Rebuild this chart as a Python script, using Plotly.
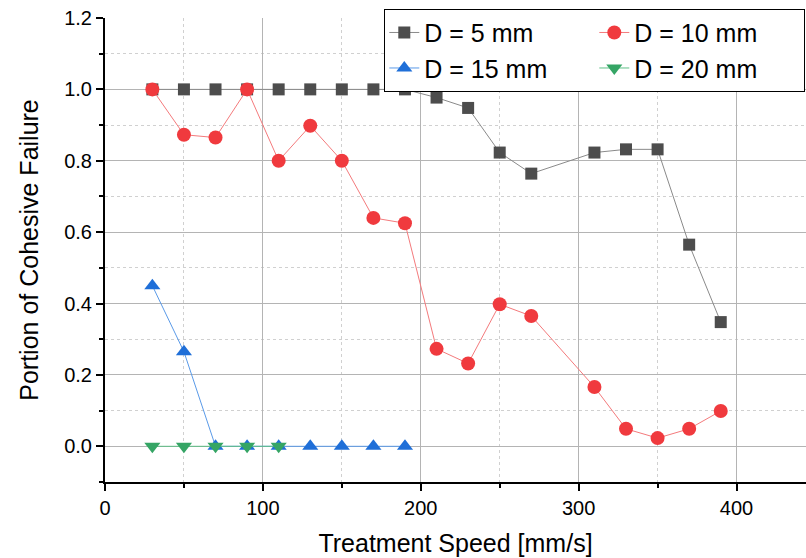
import plotly.graph_objects as go

speed_5 = [30, 50, 70, 90, 110, 130, 150, 170, 190, 210, 230, 250, 270, 310, 330, 350, 370, 390]
cf_5 = [1.0, 1.0, 1.0, 1.0, 1.0, 1.0, 1.0, 1.0, 1.0, 0.977, 0.948, 0.823, 0.764, 0.823, 0.832, 0.832, 0.565, 0.348]

speed_10 = [30, 50, 70, 90, 110, 130, 150, 170, 190, 210, 230, 250, 270, 310, 330, 350, 370, 390]
cf_10 = [1.0, 0.873, 0.865, 1.0, 0.8, 0.898, 0.8, 0.64, 0.625, 0.273, 0.232, 0.398, 0.365, 0.166, 0.049, 0.023, 0.049, 0.099]

speed_15 = [30, 50, 70, 90, 110, 130, 150, 170, 190]
cf_15 = [0.45, 0.265, 0.0, 0.0, 0.0, 0.0, 0.0, 0.0, 0.0]

speed_20 = [30, 50, 70, 90, 110]
cf_20 = [0.0, 0.0, 0.0, 0.0, 0.0]

labels = ["D = 5 mm", "D = 10 mm", "D = 15 mm", "D = 20 mm"]

fig = go.Figure()
fig.add_trace(go.Scatter(x=speed_5, y=cf_5, name=labels[0], mode="lines+markers",
                         legendgroup="c1",
                         line=dict(color="#8a8a8a", width=1),
                         marker=dict(symbol="square", size=12, color="#4d4d4d")))
fig.add_trace(go.Scatter(x=speed_10, y=cf_10, name=labels[1], mode="lines+markers",
                         legendgroup="c2",
                         line=dict(color="#f47a7c", width=1),
                         marker=dict(symbol="circle", size=14, color="#f03a3e")))
fig.add_trace(go.Scatter(x=speed_15, y=cf_15, name=labels[2], mode="lines+markers",
                         legendgroup="c1",
                         line=dict(color="#5a9ae8", width=1),
                         marker=dict(symbol="triangle-up", size=14, color="#1f6fd8")))
fig.add_trace(go.Scatter(x=speed_20, y=cf_20, name=labels[3], mode="lines+markers",
                         legendgroup="c2",
                         line=dict(color="#5fbf86", width=1),
                         marker=dict(symbol="triangle-down", size=14, color="#35a565")))

axis_common = dict(
    showline=True, linecolor="black", linewidth=2, mirror=False,
    ticks="outside", ticklen=7, tickwidth=1.5, tickcolor="black",
    showgrid=True, gridcolor="#b4b4b4", gridwidth=1,
    zeroline=False,
    tickfont=dict(family="Liberation Sans, Arial, sans-serif", size=20, color="black"),
)

fig.update_layout(
    width=806, height=558,
    margin=dict(l=105, r=0, t=18, b=76),
    paper_bgcolor="white", plot_bgcolor="white",
    font=dict(family="Liberation Sans, Arial, sans-serif", color="black"),
    xaxis=dict(range=[0, 444], dtick=100, tick0=0,
               title=dict(text="Treatment Speed [mm/s]", font=dict(size=25), standoff=16),
               minor=dict(dtick=50, showgrid=True, gridcolor="#d0d0d0", griddash="dot",
                          ticks="outside", ticklen=4, tickcolor="black"),
               **axis_common),
    yaxis=dict(range=[-0.1, 1.2], dtick=0.2, tick0=0, tickformat=".1f",
               title=dict(text="Portion of Cohesive Failure", font=dict(size=25), standoff=18),
               minor=dict(dtick=0.1, showgrid=True, gridcolor="#d0d0d0", griddash="dot",
                          ticks="outside", ticklen=4, tickcolor="black"),
               **axis_common),
    legend=dict(orientation="h", traceorder="grouped", tracegroupgap=40,
                entrywidth=165, entrywidthmode="pixels",
                x=0.999, xanchor="right", y=1.02, yanchor="top",
                bgcolor="white", bordercolor="black", borderwidth=1,
                font=dict(size=25, color="black"),
                itemsizing="trace"),
    showlegend=True,
)

fig.write_html("out.html")
